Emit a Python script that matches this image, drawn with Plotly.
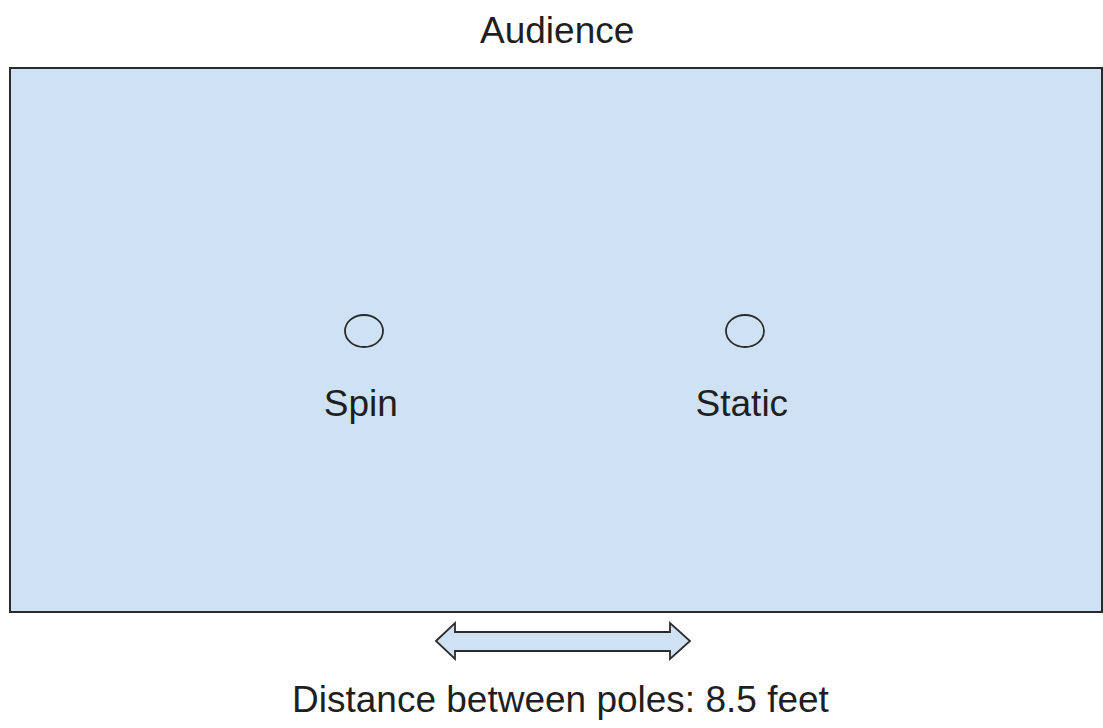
import plotly.graph_objects as go

# ---- data ----
pole_labels = ["Spin", "Static"]
pole_feet = [0.0, 8.5]
top_label = "Audience"
caption = "Distance between poles: 8.5 feet"

W, H = 1103, 728
FILL = "#cfe2f3"
LINE = "#2b2b2b"
TXT = "#1f1f1f"
FONT = "Liberation Sans, Arial, sans-serif"
FS = 37

# pixel layout -> feet scale on x
px0 = 364.0            # pixel x of first pole
px_per_ft = (745.0 - 364.0) / 8.5


def fx(px):
    return (px - px0) / px_per_ft


def tx(ft):
    return px0 + ft * px_per_ft


fig = go.Figure()

shapes = []
# stage rectangle
shapes.append(dict(type="rect", x0=fx(10), x1=fx(1102), y0=68, y1=612,
                   fillcolor=FILL, line=dict(color=LINE, width=2), layer="below"))

# poles
for ft in pole_feet:
    cx = tx(ft)
    shapes.append(dict(type="circle", x0=fx(cx - 19), x1=fx(cx + 19), y0=315, y1=347,
                       line=dict(color=LINE, width=1.8), fillcolor="rgba(0,0,0,0)"))

# double arrow
pts = [(436, 641), (455, 623), (455, 632), (670, 632), (670, 623), (690, 641),
       (670, 659), (670, 651), (455, 651), (455, 659)]
path = "M " + " L ".join(f"{fx(x):.4f},{y}" for x, y in pts) + " Z"
shapes.append(dict(type="path", path=path, fillcolor=FILL,
                   line=dict(color=LINE, width=1.8)))

# pole labels
fig.add_trace(go.Scatter(x=[f - 0.07 for f in pole_feet], y=[407, 407], mode="text",
                         text=pole_labels, textposition="middle center",
                         textfont=dict(family=FONT, size=FS, color=TXT),
                         hoverinfo="skip", showlegend=False))

annotations = [
    dict(x=fx(557), y=30, text=top_label, showarrow=False,
         font=dict(family=FONT, size=FS, color=TXT), xanchor="center", yanchor="middle"),
    dict(x=fx(561), y=699, text=caption, showarrow=False,
         font=dict(family=FONT, size=FS, color=TXT), xanchor="center", yanchor="middle"),
]

fig.update_layout(
    width=W, height=H,
    margin=dict(l=0, r=0, t=0, b=0),
    paper_bgcolor="white", plot_bgcolor="white",
    shapes=shapes, annotations=annotations,
    xaxis=dict(range=[fx(0), fx(W)], visible=False, fixedrange=True),
    yaxis=dict(range=[H, 0], visible=False, fixedrange=True),
    showlegend=False,
)

fig.write_html("out.html", config={"displayModeBar": False},
               post_script="document.body.style.margin='0';document.body.style.overflow='hidden';")
